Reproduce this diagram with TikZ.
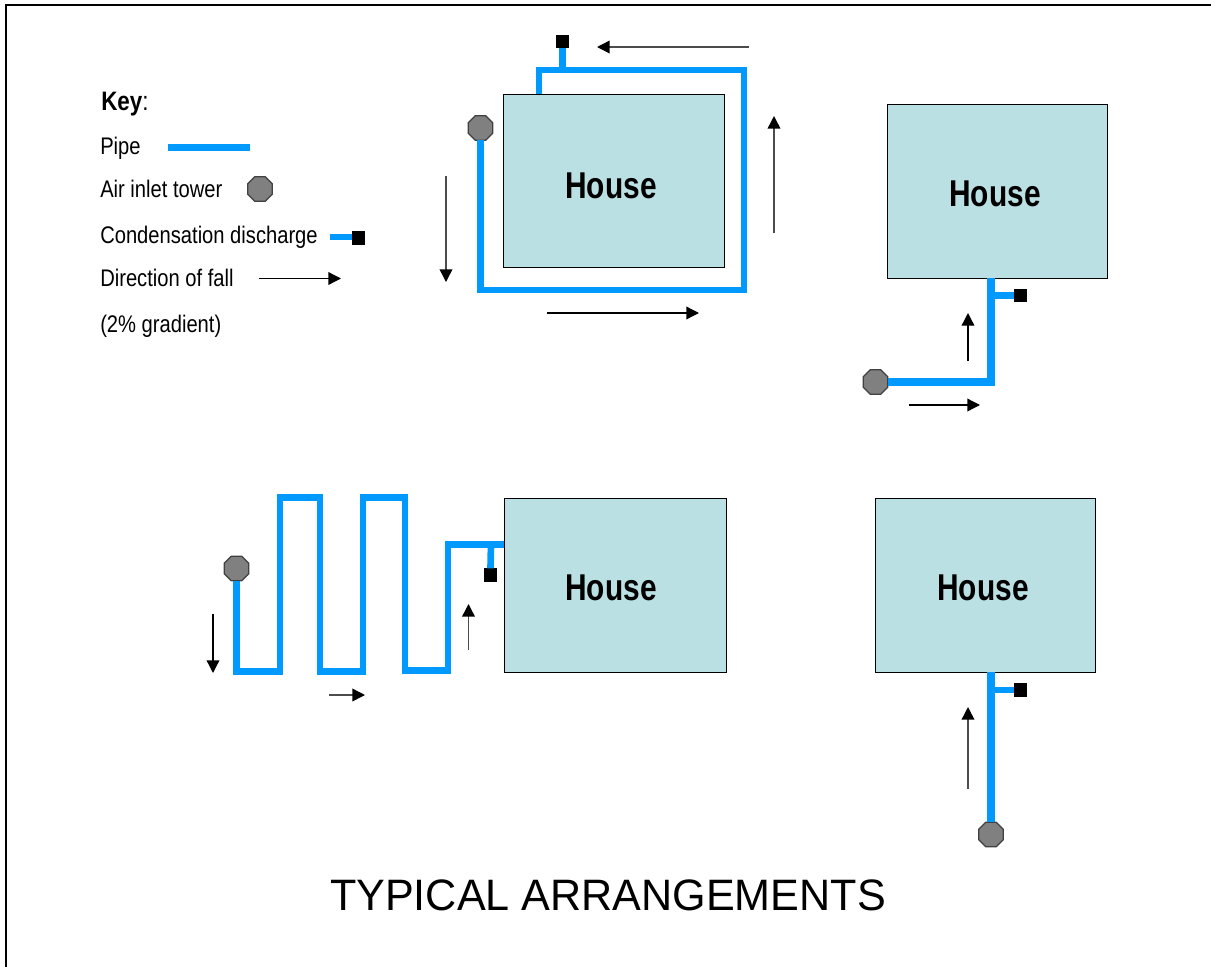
\documentclass[tikz,border=0pt]{standalone}
\usepackage{fontspec}
\setmainfont{Liberation Sans}
\newfontfamily\keyfont[FakeStretch=0.84]{Liberation Sans}
\newfontfamily\housefont[FakeStretch=0.80]{Liberation Sans}
\newfontfamily\titlefont[FakeStretch=0.98]{Liberation Sans}
\usetikzlibrary{shapes.geometric,arrows.meta}
\definecolor{pipeblue}{RGB}{0,153,255}
\definecolor{housefill}{RGB}{187,224,227}
\definecolor{towergrey}{RGB}{128,128,128}
\tikzset{
 x=0.75pt,y=-0.75pt,
 house/.style={draw=black,line width=0.75pt,fill=housefill,rectangle,inner sep=0pt,outer sep=0pt,anchor=north west},
 housetext/.style={font=\housefont\bfseries\fontsize{28}{28}\selectfont,inner sep=0pt},
 tower/.style={regular polygon,regular polygon sides=8,draw=black!75,line width=0.9pt,fill=towergrey,minimum size=20pt,inner sep=0pt,outer sep=0pt},
 drain/.style={rectangle,fill=black,minimum size=10pt,inner sep=0pt,outer sep=0pt},
 pipe/.style={draw=pipeblue,line width=5.4pt,line join=miter},
 thinpipe/.style={draw=pipeblue,line width=5pt,line join=miter},
 fall/.style={draw=black,line width=1pt,-{Triangle[length=9.5pt,width=9.5pt,fill=black]}},
 fallgrey/.style={fall,draw=black!70,line width=1.1pt,-{Triangle[length=9.5pt,width=9.5pt,fill=black,color=black]}},
 keytext/.style={font=\keyfont\fontsize{18}{18}\selectfont,anchor=base west,inner sep=0pt},
}
\begin{document}
\begin{tikzpicture}
\useasboundingbox (0,0) rectangle (1211,967);
% frame
\coordinate (f1) at (6,967); \coordinate (f2) at (6,5); \coordinate (f3) at (1211,5);
\draw[line width=1.5pt] (f1) -- (f2) -- (f3);
% key
\node[keytext] (k0) at (101,110) {\fontsize{20}{20}\selectfont\textbf{Key}:};
\node[keytext] (k1) at (100,154) {Pipe};
\node[keytext] (k2) at (100,197) {Air inlet tower};
\node[keytext] (k3) at (100,243) {Condensation discharge};
\node[keytext] (k4) at (100,286) {Direction of fall};
\node[keytext] (k5) at (100,332) {(2\% gradient)};
\coordinate (kp1) at (168,147.5); \coordinate (kp2) at (250,147.5);
\draw[thinpipe] (kp1) -- (kp2);
\node[tower] (kt) at (260,189) {};
\coordinate (kd0) at (330,237);
\node[drain] (kd) at (358.5,238) {};
\draw[thinpipe] (kd0) -- (kd.west |- kd0);
\coordinate (ka1) at (259,278.5); \coordinate (ka2) at (341,278.5);
\draw[fall] (ka1) -- (ka2);
% house 1
\node[house,minimum width=165.75pt,minimum height=129.75pt] (h1) at (503,94) {};
\node[housetext] (h1t) at (611,186) {House};
\coordinate (a) at (480.5,290); \coordinate (b) at (744,290); \coordinate (c) at (744,70);
\coordinate (e) at (539,70); \coordinate (g) at (539,94); \coordinate (j) at (562.5,70);
\node[tower] (t1) at (480.5,128) {};
\node[drain] (d1) at (562.5,41.5) {};
\draw[thinpipe] (t1.south) -- (a) -- (b) -- (c) -- (e) -- (g);
\draw[thinpipe] (j) -- (d1.south);
\coordinate (a11) at (749,47); \coordinate (a12) at (597,47); \draw[fallgrey] (a11) -- (a12);
\coordinate (a21) at (774,233); \coordinate (a22) at (774,116); \draw[fallgrey] (a21) -- (a22);
\coordinate (a31) at (446,176); \coordinate (a32) at (446,282); \draw[fallgrey] (a31) -- (a32);
\coordinate (a41) at (547,313); \coordinate (a42) at (699,313); \draw[fall] (a41) -- (a42);
% house 2
\node[house,minimum width=165pt,minimum height=130.5pt] (h2) at (887,104) {};
\node[housetext] (h2t) at (995,194) {House};
\node[tower] (t2) at (875.5,382) {};
\node[drain] (d2) at (1020.5,295.5) {};
\coordinate (b1) at (991,382); \coordinate (b2) at (991,278); \coordinate (b3) at (991,295.5);
\draw[pipe] (t2.east) -- (b1) -- (b2);
\draw[thinpipe] (b3) -- (d2.west);
\coordinate (a51) at (968,361); \coordinate (a52) at (968,313); \draw[fall] (a51) -- (a52);
\coordinate (a61) at (909,405); \coordinate (a62) at (980,405); \draw[fall] (a61) -- (a62);
% house 3
\node[house,minimum width=166.5pt,minimum height=130.5pt] (h3) at (504,498) {};
\node[housetext] (h3t) at (611,588) {House};
\node[tower] (t3) at (236.5,568.5) {};
\node[drain] (d3) at (490.5,575) {};
\coordinate (c1) at (236.5,671.5); \coordinate (c2) at (280,671.5); \coordinate (c3) at (280,497.5);
\coordinate (c4) at (320,497.5); \coordinate (c5) at (320,671.5); \coordinate (c6) at (363,671.5);
\coordinate (c7) at (363,497.5); \coordinate (c8) at (405,497.5); \coordinate (c9) at (405,670.5);
\coordinate (c10) at (448,670.5); \coordinate (c11) at (448,544.5); \coordinate (c12) at (504,544.5); \coordinate (c13) at (491,544.5);
\draw[thinpipe] (t3.south) -- (c1) -- (c2) -- (c3) -- (c4) -- (c5) -- (c6) -- (c7) -- (c8) -- (c9) -- (c10) -- (c11) -- (c12);
\draw[thinpipe] (c13) -- (d3.north);
\coordinate (a71) at (213,614); \coordinate (a72) at (213,673); \draw[fall] (a71) -- (a72);
\coordinate (a81) at (329,695); \coordinate (a82) at (365,695); \draw[fallgrey] (a81) -- (a82);
\coordinate (a91) at (468.5,650); \coordinate (a92) at (468.5,604); \draw[fallgrey] (a91) -- (a92);
% house 4
\node[house,minimum width=165pt,minimum height=130.5pt] (h4) at (875,498) {};
\node[housetext] (h4t) at (983,588) {House};
\node[tower] (t4) at (991,834.5) {};
\node[drain] (d4) at (1020.5,690) {};
\coordinate (e1) at (991,672); \coordinate (e2) at (991,690);
\draw[pipe] (t4.north) -- (e1);
\draw[thinpipe] (e2) -- (d4.west);
\coordinate (a101) at (968,789); \coordinate (a102) at (968,707); \draw[fallgrey] (a101) -- (a102);
% title
\node[font=\titlefont\fontsize{33}{33}\selectfont,inner sep=0pt] (title) at (608,895) {TYPICAL ARRANGEMENTS};
\end{tikzpicture}
\end{document}
